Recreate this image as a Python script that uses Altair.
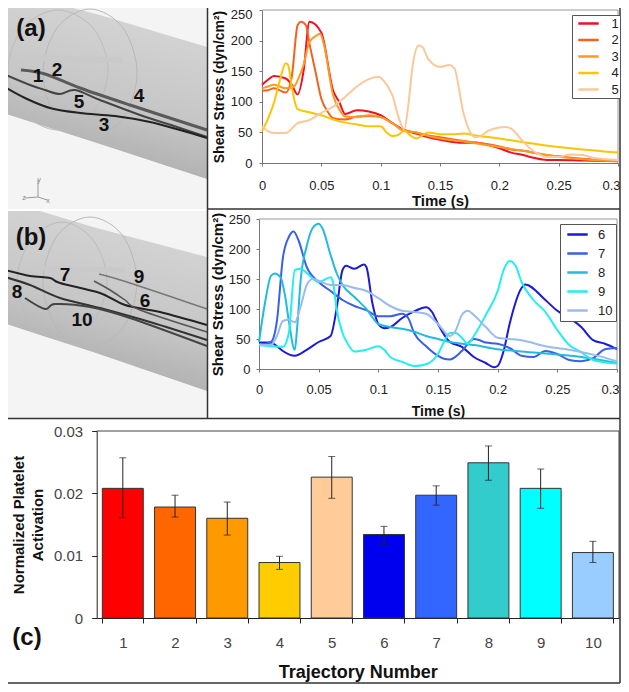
import altair as alt
import pandas as pd

# ---------- panel (a) shear stress ----------
t1 = [0,.005,.01,.02,.025,.03,.035,.04,.05,.06,.065,.07,.08,.09,.1,.11,.12,.13,.14,.15,.17,.18,.2,.21,.22,.23,.24,.25,.27,.3]
v1 = [128,136,142,138,128,112,150,231,213,118,100,80,86,84,78,65,54,48,42,38,33,33,24,17,13,8,5,5,4,3]
t2 = [0,.005,.01,.02,.025,.03,.033,.037,.04,.045,.05,.055,.06,.07,.08,.09,.1,.11,.12,.13,.14,.15,.17,.2,.21,.22,.24,.25,.27,.3]
v2 = [118,119,122,115,140,225,231,225,195,150,105,85,73,71,76,77,75,65,53,50,45,42,36,27,22,20,13,11,7,4]
t3 = [0,.005,.01,.02,.027,.03,.035,.04,.045,.049,.052,.06,.065,.07,.08,.09,.1,.11,.12,.13,.14,.15,.17,.2,.22,.25,.27,.3]
v3 = [122,125,128,122,125,135,160,198,207,211,195,110,88,76,75,78,75,65,52,50,44,40,35,26,20,10,6,3]
t4 = [0,.005,.01,.015,.02,.022,.025,.03,.04,.05,.06,.07,.08,.09,.1,.105,.11,.115,.12,.125,.13,.135,.14,.15,.16,.17,.18,.2,.22,.25,.27,.3]
v4 = [52,72,98,135,163,160,125,88,83,78,71,66,63,60,60,50,44,46,53,45,40,45,50,47,47,48,45,40,34,26,22,17]
t5 = [0,.005,.01,.02,.03,.04,.05,.06,.07,.08,.09,.098,.105,.11,.115,.12,.123,.127,.132,.135,.14,.15,.158,.162,.17,.175,.18,.185,.19,.2,.205,.21,.22,.23,.24,.25,.26,.27,.28,.3]
v5 = [60,52,49,49,65,70,82,92,108,125,137,141,128,110,75,55,90,160,192,190,170,157,160,155,80,52,42,45,52,58,59,56,35,18,10,10,14,13,8,5]
# ---------- panel (b) shear stress ----------
t6 = [0,.01,.015,.02,.03,.04,.05,.06,.065,.07,.073,.08,.088,.09,.095,.1,.105,.11,.12,.13,.14,.145,.15,.16,.17,.18,.19,.197,.2,.205,.21,.22,.223,.24,.25,.26,.27,.28,.29,.3]
v6 = [44,44,38,30,22,32,45,55,100,165,172,167,174,170,110,75,68,70,85,96,103,95,75,45,37,20,10,3,5,30,75,135,141,115,97,85,70,48,42,33]
t7 = [0,.01,.015,.02,.025,.029,.033,.04,.05,.06,.07,.08,.09,.1,.11,.12,.125,.13,.14,.15,.155,.16,.17,.18,.185,.19,.2,.21,.22,.23,.24,.25,.26,.27,.28,.29,.3]
v7 = [40,45,80,185,220,229,215,170,145,130,115,105,98,88,88,92,85,60,38,22,17,16,30,50,48,44,42,35,22,20,30,25,15,13,18,33,35]
t8 = [0,.005,.01,.013,.018,.022,.025,.03,.032,.035,.04,.045,.05,.053,.06,.065,.07,.08,.09,.1,.11,.12,.13,.14,.15,.16,.17,.18,.2,.22,.25,.27,.3]
v8 = [45,110,155,159,153,120,80,32,70,150,205,235,242,235,190,160,140,120,100,75,70,67,62,55,50,45,42,40,33,29,24,20,10]
t9 = [0,.01,.02,.025,.03,.035,.04,.05,.06,.062,.065,.07,.075,.08,.09,.1,.105,.11,.12,.13,.14,.15,.155,.16,.165,.17,.175,.18,.19,.2,.205,.21,.215,.22,.23,.24,.25,.26,.27,.28,.3]
v9 = [40,38,37,60,165,167,160,145,153,145,100,60,40,29,32,38,32,20,12,5,8,25,45,60,60,52,42,55,90,130,165,180,172,145,115,95,65,40,28,15,9]
t10 = [0,.01,.015,.02,.025,.03,.035,.04,.045,.05,.06,.07,.08,.09,.1,.11,.12,.13,.14,.15,.16,.165,.17,.175,.18,.19,.2,.21,.22,.24,.26,.28,.3]
v10 = [40,40,55,80,82,78,105,140,150,147,140,140,135,130,118,105,97,95,92,75,55,65,90,97,90,70,52,50,48,38,32,24,13]

names_a = ["1", "2", "3", "4", "5"]
colors_a = ["#ee1122", "#f0641e", "#ff9922", "#ffc400", "#fcc89b"]
names_b = ["6", "7", "8", "9", "10"]
colors_b = ["#1a1ad8", "#3a5fe8", "#22bbdd", "#22eeee", "#99bbee"]

# ---------- panel (c) bars ----------
traj = ["1", "2", "3", "4", "5", "6", "7", "8", "9", "10"]
activation = [.0208, .0178, .016, .0089, .0226, .0134, .0197, .0249, .0208, .0105]
err_low = [.0161, .0162, .0133, .0078, .0192, .0118, .0181, .0221, .0176, .0089]
err_high = [.0257, .0197, .0186, .0099, .0259, .0147, .0212, .0276, .0239, .0123]
bar_colors = ["#ff0000", "#ff6600", "#ff9900", "#ffcc00", "#ffcc99", "#0000ee", "#3366ff", "#33cccc", "#00ffff", "#99ccff"]

# ---------- schematic panels, in picture units ----------
tube_a_x = [0, 50, 100, 207]
tube_a_top = [2, 2, 15, 47]
tube_a_bot = [112, 128, 144, 179]
tube_b_x = [0, 40, 93, 207]
tube_b_top = [211, 211, 227, 257]
tube_b_bot = [322, 335, 352, 391]

sketch_lines = {
    "ra1": ([58,93,108,93,58,23,8,23], [10,28,70,112,130,112,70,28], "#bcbcbc", 1),
    "ra2": ([90,123,137,123,90,57,43,57], [9,28,73,118,137,118,73,28], "#b8b8b8", 1),
    "rb1": ([62,93,107,93,62,31,17,31], [222,240,281,322,340,322,281,240], "#bcbcbc", 1),
    "rb2": ([90,123,137,123,90,57,43,57], [217,236,282,328,347,328,282,236], "#b8b8b8", 1),
}
leaflets = {
    "la": ([20, 70, 122], [57, 59, 60], "#c9c9c9", 6),
    "lb": ([32, 80, 125], [268, 269, 270], "#c9c9c9", 5),
}
paths = {
    "p12": ([21,45,80,130,207], [70,74,88,105,130], "#5a5a5a", 3),
    "p5": ([6,30,45,60,75,100,140,180,207], [75,85,90,94,90,100,115,128,137], "#444444", 2),
    "p3": ([3,25,50,80,115,150,180,207], [86,98,108,113,116,122,130,138], "#222222", 2),
    "p7": ([5,30,50,60,100,125,160,207], [270,276,278,283,293,305,312,325], "#222222", 2),
    "p8": ([5,30,60,100,150,207], [277,285,298,308,322,340], "#333333", 2),
    "p10": ([25,45,55,90,130,207], [298,309,304,307,318,346], "#444444", 2),
    "p9": ([99,130,207], [274,283,309], "#777777", 1.5),
    "p6": ([94,110,125,140,207], [281,290,300,310,332], "#555555", 1.5),
    "tz": ([25, 38], [198, 197], "#999999", 1),
    "ty": ([38, 38], [180, 197], "#999999", 1),
    "tx": ([38, 47], [197, 200], "#999999", 1),
}
num_text = ["1", "2", "5", "4", "3", "7", "9", "8", "6", "10"]
num_x = [38, 57, 79, 139, 104, 65, 139, 17, 145, 82]
num_y = [76, 70, 102, 96, 125, 275, 277, 292, 301, 320]
tag_text = ["(a)", "(b)", "(c)"]
tag_x = [31, 31, 27]
tag_y = [29, 238, 638]
triad_text = ["z", "y", "x"]
triad_x = [24, 39, 48]
triad_y = [198, 180, 201]
frame_x1 = [207.5, 207.5, 0, 0, 620, 620]
frame_y1 = [0, 209, 418.5, 683, 0, 418.5]
frame_x2 = [207.5, 620, 620, 620, 620, 620]
frame_y2 = [418.5, 209, 418.5, 683, 418.5, 683]
# plot-area top and right edges
edge_x1 = [262, 618, 259, 617, 96.7, 619]
edge_y1 = [10, 10, 219, 219, 431, 431]
edge_x2 = [618, 618, 617, 617, 619, 619]
edge_y2 = [10, 163, 219, 369, 431, 618]
edge_c = ["#999999", "#999999", "#999999", "#999999", "#444444", "#444444"]

M = 8  # page margin: picture coordinates minus M are chart coordinates
FONT = "Liberation Sans"

pic_x = alt.Scale(domain=[0, 629], range=[-M, 629 - M])
pic_y = alt.Scale(domain=[0, 692], range=[-M, 692 - M])
X = lambda f="x": alt.X(f"{f}:Q", scale=pic_x, axis=None)
Y = lambda f="y": alt.Y(f"{f}:Q", scale=pic_y, axis=None)

# ---------- schematic layers ----------
bg = alt.Chart(pd.DataFrame({"x": [2, 2], "x2": [207, 207], "y": [2, 211], "y2": [209, 418]})).mark_rect(color="#f4f4f4").encode(
    x=X(), x2="x2:Q", y=Y(), y2="y2:Q")

grad = alt.LinearGradient(gradient="linear", stops=[alt.GradientStop(color="#d6d6d6", offset=0),
                                     alt.GradientStop(color="#c6c6c6", offset=0.55),
                                     alt.GradientStop(color="#a6a6a6", offset=1)],
                    x1=0.65, y1=0, x2=0.35, y2=1)
tube_a = alt.Chart(pd.DataFrame({"x": tube_a_x, "y": tube_a_top, "y2": tube_a_bot})).mark_area(color=grad).encode(
    x=X(), y=Y(), y2="y2:Q")
tube_b = alt.Chart(pd.DataFrame({"x": tube_b_x, "y": tube_b_top, "y2": tube_b_bot})).mark_area(color=grad).encode(
    x=X(), y=Y(), y2="y2:Q")


def sketch(groups, interp):
    out = []
    for key, (xs, ys, col, w) in groups.items():
        out.append(alt.Chart(pd.DataFrame({"x": xs, "y": ys, "i": range(len(xs))})).mark_line(
            color=col, strokeWidth=w, interpolate=interp).encode(x=X(), y=Y(), order="i:Q"))
    return out


rings = sketch(sketch_lines, "cardinal-closed")
leaf = sketch(leaflets, "monotone")
traces = sketch(paths, "cardinal")

nums = alt.Chart(pd.DataFrame({"x": num_x, "y": num_y, "t": num_text})).mark_text(
    font=FONT, fontSize=19, fontWeight="bold", color="#111111").encode(x=X(), y=Y(), text="t:N")
tags = alt.Chart(pd.DataFrame({"x": tag_x, "y": tag_y, "t": tag_text})).mark_text(
    font=FONT, fontSize=24, fontWeight="bold", color="#111111").encode(x=X(), y=Y(), text="t:N")
triad = alt.Chart(pd.DataFrame({"x": triad_x, "y": triad_y, "t": triad_text})).mark_text(
    font=FONT, fontSize=7, color="#888888").encode(x=X(), y=Y(), text="t:N")
frame = alt.Chart(pd.DataFrame({"x": frame_x1, "y": frame_y1, "x2": frame_x2, "y2": frame_y2})).mark_rule(
    color="#333333", strokeWidth=1.5).encode(x=X(), y=Y(), x2="x2:Q", y2="y2:Q")
edges = alt.Chart(pd.DataFrame({"x": edge_x1, "y": edge_y1, "x2": edge_x2, "y2": edge_y2, "c": edge_c})).mark_rule(
    strokeWidth=1).encode(x=X(), y=Y(), x2="x2:Q", y2="y2:Q", color=alt.Color("c:N", scale=None))

picture = alt.layer(bg, tube_a, tube_b, *rings, *leaf, *traces, nums, tags, triad, frame, edges)

W, H = 629 - 2 * M, 692 - 2 * M


def axis_common(**kw):
    base = dict(grid=False, labelFont=FONT, titleFont=FONT, domainColor="#777777", tickColor="#777777",
                labelColor="#222222", titleColor="#111111", labelOverlap=False, labelFlush=False)
    base.update(kw)
    return alt.Axis(**base)


def shear_panel(series, names, colors, px0, px1, py0, py1, x_kw, y_kw, legend_x, legend_y, leg_kw):
    rows = []
    for nm, (ts, vs) in zip(names, series):
        rows += [{"t": a, "v": b, "s": nm, "i": k} for k, (a, b) in enumerate(zip(ts, vs))]
    df = pd.DataFrame(rows)
    return alt.Chart(df).mark_line(strokeWidth=2, interpolate="monotone").encode(
        x=alt.X("t:Q", scale=alt.Scale(domain=[0, .3], range=[px0 - M, px1 - M], nice=False, zero=False),
                axis=axis_common(orient="bottom", offset=-(H - (py0 - M)), values=[0, .05, .1, .15, .2, .25, .3],
                                 labelExpr="'' + datum.value", title="Time (s)",
                                 labelOffset=alt.ExprRef("datum.value == 0.3 ? -7 : 0"),
                                 titleFontWeight="bold", tickSize=3, **x_kw)),
        y=alt.Y("v:Q", scale=alt.Scale(domain=[0, 250], range=[py0 - M, py1 - M], nice=False),
                axis=axis_common(orient="left", offset=-(px0 - M), values=[0, 50, 100, 150, 200, 250],
                                 title="Shear Stress (dyn/cm²)", titleFontWeight="bold",
                                 tickSize=3, **y_kw)),
        color=alt.Color("s:N", scale=alt.Scale(domain=names, range=colors),
                        legend=alt.Legend(orient="none", legendX=legend_x - M, legendY=legend_y - M, title=None,
                                          symbolType="M-1.7,0H1.7", symbolSize=144, symbolStrokeWidth=2.5,
                                          labelFont=FONT, labelFontSize=13, labelColor="#222222",
                                          strokeColor="#555555", fillColor="white", **leg_kw)),
        order="i:Q",
    )


panel_a = shear_panel([(t1, v1), (t2, v2), (t3, v3), (t4, v4), (t5, v5)], names_a, colors_a,
                      262, 618, 163, 10,
                      dict(titleFontSize=15, labelFontSize=13, labelPadding=13, titleY=30),
                      dict(titleFontSize=14, labelFontSize=13, labelPadding=7, titlePadding=4,
                           labelOffset=alt.ExprRef("datum.value == 250 ? 4 : 0")),
                      572, 15,
                      dict(padding=1, rowPadding=1.5, symbolOffset=8, labelOffset=15.5,
                           labelExpr="datum.label + '  '"))
panel_b = shear_panel([(t6, v6), (t7, v7), (t8, v8), (t9, v9), (t10, v10)], names_b, colors_b,
                      259, 617, 369, 219,
                      dict(titleFontSize=14, labelFontSize=13, labelPadding=11, titleY=35),
                      dict(titleFontSize=15, labelFontSize=13, labelPadding=6, titlePadding=3),
                      560, 224,
                      dict(padding=3, rowPadding=4, symbolOffset=7, labelOffset=13))

# ---------- bar panel ----------
bar_df = pd.DataFrame({"n": traj, "v": activation, "lo": err_low, "hi": err_high, "c": bar_colors})
cx = alt.X("n:N", sort=traj, scale=alt.Scale(domain=traj, range=[96.7 - M, 619 - M], paddingInner=0.216, paddingOuter=0.108),
           axis=axis_common(orient="bottom", offset=-(H - (618 - M)), title="Trajectory Number", titleFontSize=18,
                            titleFontWeight="bold", labelFontSize=15, labelColor="#444444",
                            labelAngle=0, tickSize=5, tickBand="extent",
                            domainColor="#222222", tickColor="#222222", labelPadding=12, titleY=45))
cy = alt.Y("v:Q", scale=alt.Scale(domain=[0, .03], range=[618 - M, 431 - M], nice=False),
           axis=axis_common(orient="left", offset=-(96.7 - M), values=[0, .01, .02, .03], labelExpr="'' + datum.value",
                            title=["Normalized Platelet", "Activation"], titleFontSize=15, titleFontWeight="bold",
                            titleLineHeight=19, labelFontSize=15, labelColor="#444444",
                            labelPadding=9, tickSize=5, domainColor="#222222", tickColor="#222222", titlePadding=8))
bars = alt.Chart(bar_df).mark_bar(stroke="#333333", strokeWidth=1).encode(
    x=cx, y=cy, color=alt.Color("c:N", scale=None))
err_rule = alt.Chart(bar_df).mark_rule(color="#222222", strokeWidth=1).encode(
    x=alt.X("n:N", sort=traj), y=alt.Y("lo:Q"), y2="hi:Q")
err_lo = alt.Chart(bar_df).mark_tick(color="#222222", size=7, thickness=1, orient="horizontal").encode(
    x=alt.X("n:N", sort=traj), y=alt.Y("lo:Q"))
err_hi = alt.Chart(bar_df).mark_tick(color="#222222", size=7, thickness=1, orient="horizontal").encode(
    x=alt.X("n:N", sort=traj), y=alt.Y("hi:Q"))
panel_c = alt.layer(bars, err_rule, err_lo, err_hi)

chart = alt.layer(picture, panel_a, panel_b, panel_c).resolve_scale(
    x="independent", y="independent", color="independent"
).resolve_axis(x="independent", y="independent").resolve_legend(color="independent").properties(
    width=W, height=H, padding=0, autosize=alt.AutoSizeParams(type="none"), background="white"
).configure_view(stroke=None)

chart.save("out.html", embed_options={"renderer": "svg", "actions": False})
